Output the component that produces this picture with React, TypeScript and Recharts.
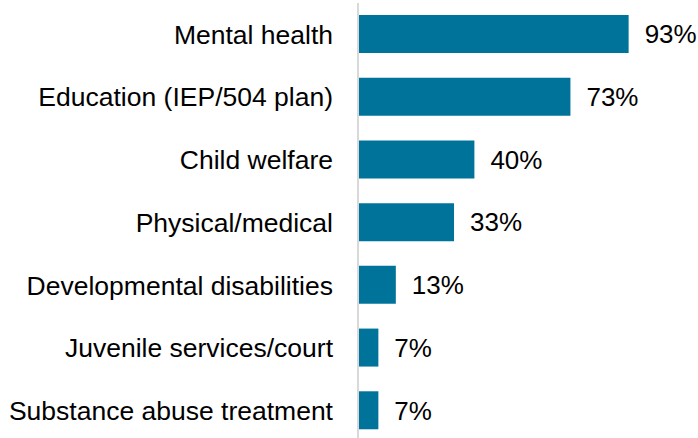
import React from 'react';
import { BarChart, Bar, XAxis, YAxis, LabelList } from 'recharts';

const categories = [
  'Mental health',
  'Education (IEP/504 plan)',
  'Child welfare',
  'Physical/medical',
  'Developmental disabilities',
  'Juvenile services/court',
  'Substance abuse treatment',
];
const shares = [93, 73, 40, 33, 13, 7, 7];

const data = categories.map((name, i) => ({ name, value: shares[i] }));

const font = 'Arial, "Liberation Sans", sans-serif';

const App: React.FC = () => {
  return (
    <div style={{ position: 'absolute', left: 0, top: 0, width: 698, height: 438, overflow: 'hidden', background: '#fff' }}>
      <BarChart
        width={698}
        height={445}
        data={data}
        layout="vertical"
        margin={{ top: 3, right: 49, left: 0, bottom: 3 }}
      >
        <XAxis type="number" domain={[0, 100]} hide />
        <YAxis
          dataKey="name"
          type="category"
          width={358}
          interval={0}
          tickLine={false}
          tickSize={0}
          tickMargin={25}
          axisLine={{ stroke: '#d9d9d9', strokeWidth: 2 }}
          tick={{ fontSize: 26.5, fill: '#000', fontFamily: font }}
        />
        <Bar dataKey="value" fill="#00739a" barSize={38} isAnimationActive={false}>
          <LabelList
            dataKey="value"
            position="right"
            offset={16}
            formatter={(v: number) => `${v}%`}
            style={{ fontSize: 26, fill: '#000', fontFamily: font }}
          />
        </Bar>
      </BarChart>
    </div>
  );
};

export default App;
